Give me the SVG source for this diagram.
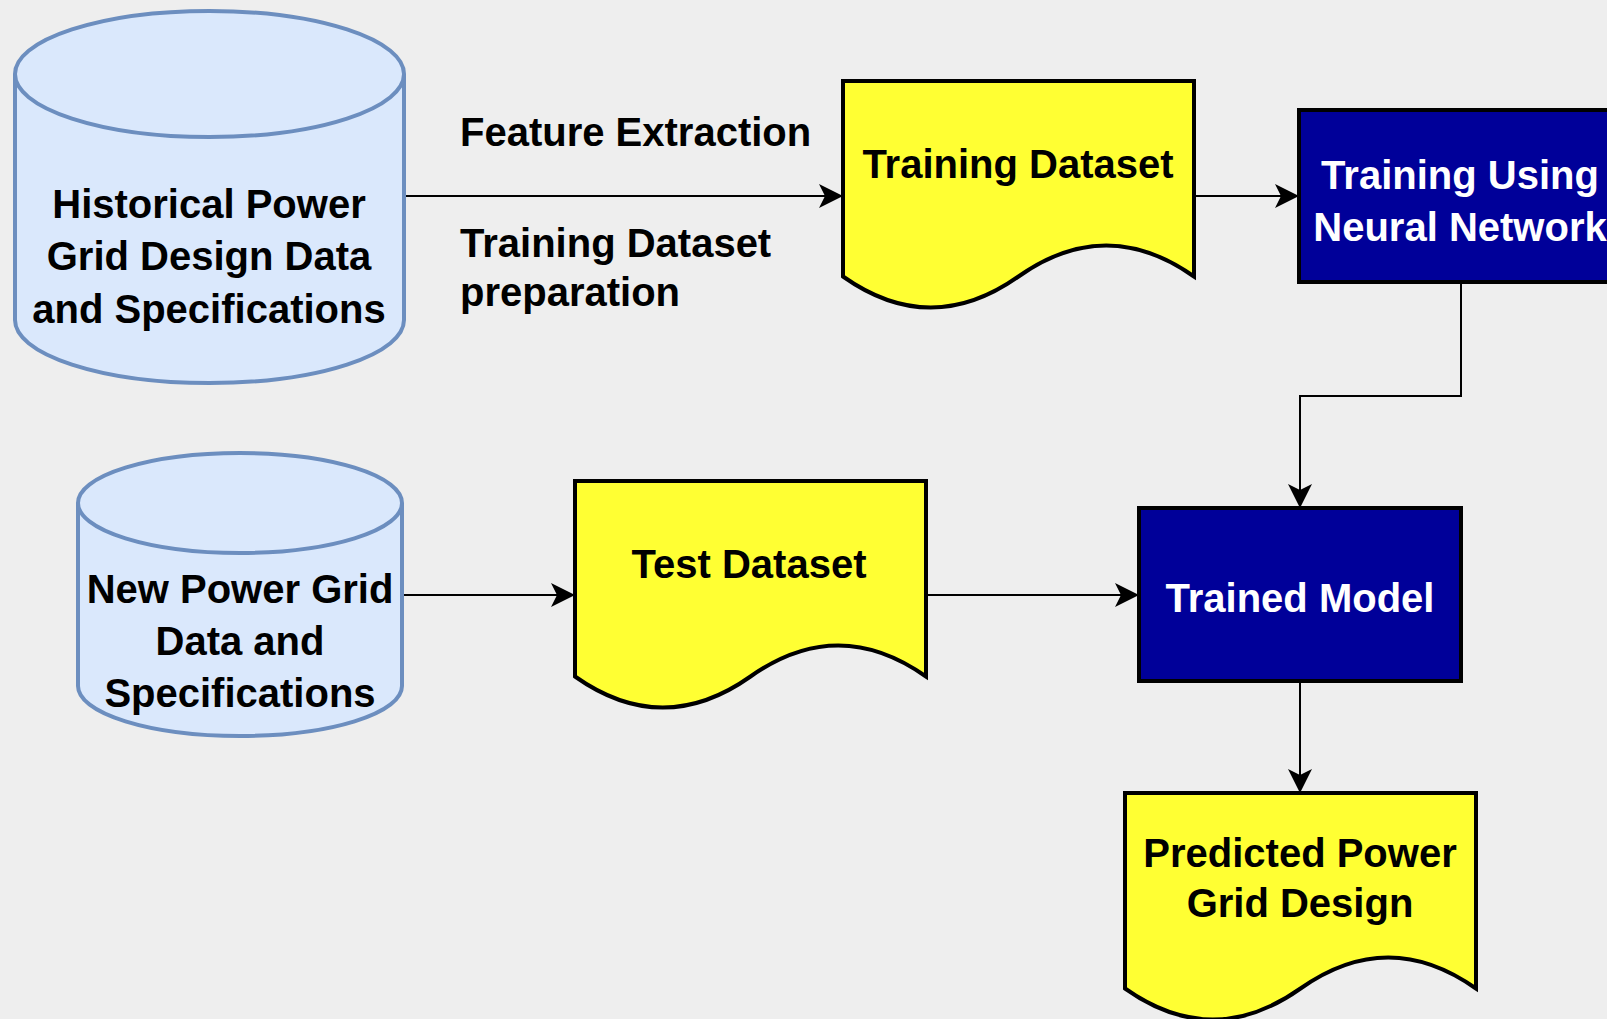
<svg xmlns="http://www.w3.org/2000/svg" width="1607" height="1019" viewBox="0 0 1607 1019">
  <style>
    .cyl { fill: #dae8fc; stroke: #6c8ebf; stroke-width: 4; }
    .doc { fill: #ffff33; stroke: #000000; stroke-width: 4; stroke-linejoin: miter; }
    .box { fill: #000099; stroke: #000000; stroke-width: 4; }
    .edge { fill: none; stroke: #000000; stroke-width: 2; }
    text { font-family: "Liberation Sans", Arial, Helvetica, sans-serif; font-weight: bold; font-size: 40px; }
    .dark { fill: #000000; text-anchor: middle; }
    .light { fill: #ffffff; text-anchor: middle; }
    .lbl { fill: #000000; text-anchor: start; }
  </style>
  <defs>
    <marker id="arrow" markerUnits="userSpaceOnUse" markerWidth="24" markerHeight="24" refX="24" refY="12" orient="auto" viewBox="0 0 24 24">
      <path d="M24,12 L0,0 L6,12 L0,24 Z" fill="#000000"/>
    </marker>
  </defs>
  <rect x="0" y="0" width="1607" height="1019" fill="#eeeeee"/>

  <g id="connectors">
    <path class="edge" d="M405,196 L843,196" marker-end="url(#arrow)"/>
    <path class="edge" d="M1195,196 L1299,196" marker-end="url(#arrow)"/>
    <path class="edge" d="M1461,283 L1461,396 L1300,396 L1300,508" marker-end="url(#arrow)"/>
    <path class="edge" d="M402,595 L575,595" marker-end="url(#arrow)"/>
    <path class="edge" d="M927,595 L1139,595" marker-end="url(#arrow)"/>
    <path class="edge" d="M1300,682 L1300,793" marker-end="url(#arrow)"/>
  </g>

  <g id="label-feature">
    <text class="lbl" x="460" y="146">Feature Extraction</text>
  </g>
  <g id="label-prep">
    <text class="lbl" x="460" y="257">Training Dataset</text>
    <text class="lbl" x="460" y="306">preparation</text>
  </g>

  <g id="historical-data">
    <path class="cyl" d="M15,74 A194.5,63 0 0 1 404,74 L404,320 A194.5,63 0 0 1 15,320 Z"/>
    <path class="cyl" fill="none" d="M15,74 A194.5,63 0 0 0 404,74"/>
    <text class="dark" x="209" y="218">Historical Power</text>
    <text class="dark" x="209" y="270">Grid Design Data</text>
    <text class="dark" x="209" y="323">and Specifications</text>
  </g>

  <g id="training-dataset">
    <path class="doc" d="M843,81 L1194,81 L1194,276.5 Q1106.25,214.4 1018.5,276.5 Q930.75,338.6 843,276.5 Z"/>
    <text class="dark" x="1018" y="178">Training Dataset</text>
  </g>

  <g id="training-nn">
    <rect class="box" x="1299" y="110" width="322" height="172"/>
    <text class="light" x="1460" y="189">Training Using</text>
    <text class="light" x="1460" y="241">Neural Network</text>
  </g>

  <g id="new-data">
    <path class="cyl" d="M78,503 A162,50 0 0 1 402,503 L402,686 A162,50 0 0 1 78,686 Z"/>
    <path class="cyl" fill="none" d="M78,503 A162,50 0 0 0 402,503"/>
    <text class="dark" x="240" y="603">New Power Grid</text>
    <text class="dark" x="240" y="655">Data and</text>
    <text class="dark" x="240" y="707">Specifications</text>
  </g>

  <g id="test-dataset">
    <path class="doc" d="M575,481 L926,481 L926,676.5 Q838.25,614.4 750.5,676.5 Q662.75,738.6 575,676.5 Z"/>
    <text class="dark" x="749" y="578">Test Dataset</text>
  </g>

  <g id="trained-model">
    <rect class="box" x="1139" y="508" width="322" height="173"/>
    <text class="light" x="1300" y="612">Trained Model</text>
  </g>

  <g id="predicted-design">
    <path class="doc" d="M1125,793 L1476,793 L1476,988.5 Q1388.25,926.4 1300.5,988.5 Q1212.75,1050.6 1125,988.5 Z"/>
    <text class="dark" x="1300" y="867">Predicted Power</text>
    <text class="dark" x="1300" y="917">Grid Design</text>
  </g>
</svg>
